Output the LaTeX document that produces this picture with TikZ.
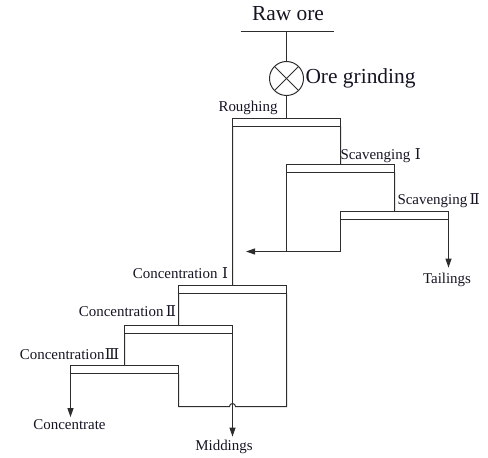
\documentclass[tikz,border=0pt]{standalone}
\usepackage{fontspec}
\setmainfont{Liberation Serif}
\newfontfamily\numfont{DejaVu Serif}
\newcommand{\rnum}[1]{\makebox[1em]{\numfont #1}}
\usepackage{xcolor}
\definecolor{line-900}{RGB}{45,45,45}
\definecolor{text-900}{RGB}{20,20,35}
\usetikzlibrary{arrows.meta,positioning}

\begin{document}
\begin{tikzpicture}[
    x=1bp, y=-1bp,
    every node/.style={inner sep=0pt, outer sep=0pt},
    color=line-900, line width=1bp,
    cell/.style={draw=line-900, line width=1bp, minimum width=108bp, minimum height=8bp},
    lbl/.style={font=\rmfamily\fontsize{15}{17}\selectfont, text=text-900},
    big/.style={font=\rmfamily\fontsize{21.5}{24}\selectfont, text=text-900},
    flow/.style={-{Triangle[length=9bp,width=6bp]}}
]

\useasboundingbox (0,0) rectangle (488,458);

% Flotation cells
\node[cell] (rough) at (286.5,122.5) {};
\node[cell] (scav1) at (340.5,168.5) {};
\node[cell] (scav2) at (394.5,215.5) {};
\node[cell] (conc1) at (232.5,289.5) {};
\node[cell] (conc2) at (178.5,329.5) {};
\node[cell] (conc3) at (124.5,369.5) {};

% Feed and grinding
\node[big, anchor=base] (raw) at (288,21) {Raw ore};
\coordinate (feed) at (286.5,31.5);
\draw ([xshift=-46bp]feed) -- ([xshift=47bp]feed);
\node[
    circle, draw=line-900, minimum size=34bp,
    path picture={
        \draw (path picture bounding box.north west) -- (path picture bounding box.south east);
        \draw (path picture bounding box.south west) -- (path picture bounding box.north east);
    }
] (mill) at (286.5,78.5) {};
\node[big, right=2bp of mill] (millname) {Ore grinding};
\draw (feed) -- (mill);
\draw (mill) -- (rough);

% Cell labels
\node[lbl, anchor=base east] (roughname) at ([xshift=-9bp, yshift=7bp]rough.north) {Roughing};
\node[lbl, anchor=base west] (scav1name) at ([yshift=5bp]scav1.north) {Scavenging\rnum{Ⅰ}};
\node[lbl, anchor=base west] (scav2name) at ([xshift=3bp, yshift=6.5bp]scav2.north) {Scavenging\rnum{Ⅱ}};
\node[lbl, anchor=base east] (conc1name) at ([yshift=7bp]conc1.north) {Concentration\rnum{Ⅰ}};
\node[lbl, anchor=base east] (conc2name) at ([yshift=9bp]conc2.north) {Concentration\rnum{Ⅱ}};
\node[lbl, anchor=base east] (conc3name) at ([xshift=-5bp, yshift=6bp]conc3.north) {Concentration\rnum{Ⅲ}};

% Products
\node[lbl, anchor=base] (tail) at (447,283) {Tailings};
\node[lbl, anchor=base] (conc) at (69.5,429) {Concentrate};
\node[lbl, anchor=base] (mid) at (224,450) {Middings};

% Scavenging line
\draw (rough.south east) -- (scav1.north);
\draw (scav1.south east) -- (scav2.north);
\draw[flow] (scav2.south east) -- ([yshift=5bp]tail.north -| scav2.south east);
\coordinate (back) at (246,251.5);
\draw[flow] (scav2.south west) |- (back);
\draw (scav1.south west) -- (scav1.south west |- back);

% Cleaning line
\draw (rough.south west) -- (conc1.north);
\draw (conc1.south west) -- (conc2.north);
\draw (conc2.south west) -- (conc3.north);
\draw[flow] (conc3.south west) -- ([yshift=2bp]conc.north -| conc3.south west);
\draw[flow] (conc2.south east) -- ([yshift=3bp]mid.north -| conc2.south east);
\coordinate (hop) at (232.5,406.5);
\draw (conc3.south east) |- ([xshift=-3bp]hop) arc[start angle=180, end angle=0, radius=3bp] -- (conc1.south east |- hop) -- (conc1.south east);

\end{tikzpicture}
\end{document}
